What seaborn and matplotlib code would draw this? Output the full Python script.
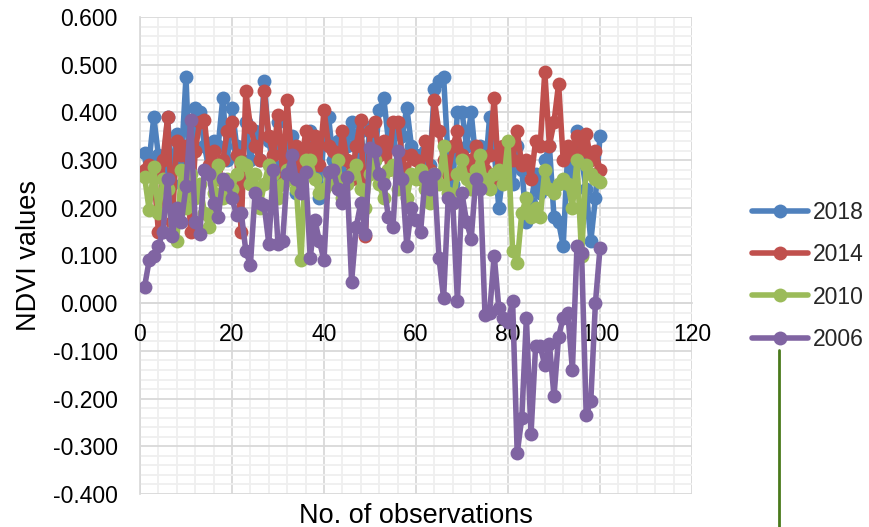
import numpy as np
import pandas as pd
import matplotlib
matplotlib.use("Agg")
import matplotlib.pyplot as plt
import seaborn as sns
from matplotlib.ticker import MultipleLocator, FormatStrFormatter
from matplotlib.lines import Line2D

observations = list(range(1, 101))

ndvi_2018 = [0.315, 0.30, 0.39, 0.31, 0.28, 0.39, 0.25, 0.355, 0.30, 0.475,
             0.22, 0.41, 0.40, 0.33, 0.28, 0.34, 0.33, 0.43, 0.30, 0.41,
             0.33, 0.27, 0.38, 0.30, 0.36, 0.30, 0.465, 0.34, 0.29, 0.38,
             0.26, 0.33, 0.35, 0.23, 0.32, 0.28, 0.36, 0.30, 0.22, 0.35,
             0.39, 0.30, 0.34, 0.27, 0.33, 0.38, 0.30, 0.36, 0.28, 0.37,
             0.30, 0.405, 0.43, 0.34, 0.36, 0.29, 0.35, 0.41, 0.33, 0.31,
             0.27, 0.32, 0.29, 0.45, 0.465, 0.475, 0.30, 0.25, 0.40, 0.40,
             0.33, 0.40, 0.30, 0.33, 0.27, 0.39, 0.32, 0.20, 0.28, 0.30,
             0.25, 0.33, 0.28, 0.17, 0.21, 0.27, 0.23, 0.30, 0.33, 0.18,
             0.17, 0.12, 0.32, 0.27, 0.36, 0.30, 0.24, 0.13, 0.22, 0.35]

ndvi_2014 = [0.28, 0.29, 0.27, 0.15, 0.30, 0.39, 0.17, 0.34, 0.31, 0.33,
             0.15, 0.32, 0.38, 0.385, 0.29, 0.32, 0.26, 0.30, 0.36, 0.38,
             0.31, 0.15, 0.445, 0.37, 0.33, 0.30, 0.445, 0.35, 0.31, 0.395,
             0.27, 0.425, 0.30, 0.33, 0.28, 0.36, 0.31, 0.35, 0.29, 0.405,
             0.33, 0.32, 0.26, 0.36, 0.30, 0.26, 0.33, 0.385, 0.14, 0.36,
             0.38, 0.31, 0.34, 0.28, 0.38, 0.38, 0.31, 0.27, 0.31, 0.30,
             0.26, 0.34, 0.28, 0.425, 0.36, 0.30, 0.27, 0.33, 0.36, 0.31,
             0.28, 0.30, 0.33, 0.30, 0.28, 0.31, 0.43, 0.26, 0.33, 0.32,
             0.30, 0.36, 0.29, 0.30, 0.26, 0.34, 0.33, 0.485, 0.33, 0.38,
             0.46, 0.30, 0.33, 0.31, 0.35, 0.32, 0.355, 0.30, 0.32, 0.28]

ndvi_2010 = [0.265, 0.195, 0.285, 0.19, 0.26, 0.24, 0.15, 0.13, 0.28, 0.20,
             0.27, 0.22, 0.25, 0.19, 0.16, 0.23, 0.29, 0.22, 0.26, 0.24,
             0.27, 0.295, 0.29, 0.25, 0.27, 0.20, 0.25, 0.29, 0.27, 0.22,
             0.25, 0.28, 0.26, 0.24, 0.09, 0.30, 0.30, 0.26, 0.23, 0.24,
             0.27, 0.25, 0.30, 0.22, 0.25, 0.27, 0.29, 0.24, 0.20, 0.27,
             0.30, 0.25, 0.22, 0.28, 0.29, 0.24, 0.26, 0.22, 0.27, 0.26,
             0.28, 0.24, 0.21, 0.27, 0.25, 0.33, 0.23, 0.21, 0.27, 0.30,
             0.26, 0.24, 0.28, 0.31, 0.26, 0.24, 0.27, 0.28, 0.25, 0.34,
             0.11, 0.085, 0.19, 0.22, 0.18, 0.20, 0.18, 0.28, 0.24, 0.23,
             0.25, 0.26, 0.25, 0.20, 0.30, 0.10, 0.29, 0.27, 0.26, 0.255]

ndvi_2006 = [0.035, 0.09, 0.10, 0.12, 0.15, 0.26, 0.14, 0.20, 0.17, 0.245,
             0.385, 0.17, 0.145, 0.28, 0.27, 0.21, 0.18, 0.26, 0.25, 0.22,
             0.185, 0.19, 0.11, 0.08, 0.23, 0.21, 0.205, 0.125, 0.28, 0.125,
             0.13, 0.27, 0.31, 0.26, 0.23, 0.275, 0.095, 0.175, 0.13, 0.09,
             0.275, 0.28, 0.24, 0.21, 0.265, 0.045, 0.16, 0.21, 0.145, 0.325,
             0.32, 0.27, 0.25, 0.18, 0.16, 0.32, 0.26, 0.12, 0.20, 0.175,
             0.15, 0.265, 0.24, 0.27, 0.095, 0.01, 0.22, 0.21, 0.005, 0.23,
             0.17, 0.135, 0.26, 0.24, -0.025, -0.02, 0.10, -0.01, -0.03, -0.04,
             0.005, -0.315, -0.24, -0.03, -0.275, -0.09, -0.09, -0.13, -0.085, -0.195,
             -0.07, -0.03, -0.02, -0.14, 0.12, 0.105, -0.235, -0.205, 0.0, 0.115]

series_names = ["2018", "2014", "2010", "2006"]
series_values = [ndvi_2018, ndvi_2014, ndvi_2010, ndvi_2006]
series_colors = ["#4F81BD", "#C0504D", "#9BBB59", "#8064A2"]

sns.set_theme(style="white")
plt.rcParams["font.family"] = ["Liberation Sans", "DejaVu Sans"]
plt.rcParams["axes.unicode_minus"] = False

fig = plt.figure(figsize=(8.69, 5.27), dpi=100)
rect = [140 / 869, 1 - 494 / 527, 552 / 869, 477 / 527]

# background axes carrying only the gridlines
ax_bg = fig.add_axes(rect, zorder=0)
ax_bg.set_xlim(0, 120)
ax_bg.set_ylim(-0.4, 0.6)
ax_bg.xaxis.set_major_locator(MultipleLocator(20))
ax_bg.xaxis.set_minor_locator(MultipleLocator(4))
ax_bg.yaxis.set_major_locator(MultipleLocator(0.1))
ax_bg.yaxis.set_minor_locator(MultipleLocator(0.02))
ax_bg.grid(which="minor", color="#EFEFEF", linewidth=1.3)
ax_bg.grid(which="major", color="#D9D9D9", linewidth=1.3)
ax_bg.tick_params(which="both", length=0, labelbottom=False, labelleft=False)
for s in ax_bg.spines.values():
    s.set_visible(False)

ax = fig.add_axes(rect, zorder=1)
ax.patch.set_alpha(0)

for name, vals, col in zip(series_names, series_values, series_colors):
    df = pd.DataFrame({"obs": observations, "ndvi": vals})
    sns.lineplot(data=df, x="obs", y="ndvi", ax=ax, color=col, marker="o",
                 markersize=10, linewidth=4.0, markeredgewidth=0,
                 label=name, zorder=3)

ax.set_xlim(0, 120)
ax.set_ylim(-0.4, 0.6)
ax.xaxis.set_major_locator(MultipleLocator(20))
ax.yaxis.set_major_locator(MultipleLocator(0.1))
ax.yaxis.set_major_formatter(FormatStrFormatter("%.3f"))
ax.grid(False)

for s in ["top", "right"]:
    ax.spines[s].set_visible(False)
ax.spines["left"].set_color("#D9D9D9")
ax.spines["bottom"].set_color("#D9D9D9")
ax.spines["left"].set_zorder(0)
ax.spines["bottom"].set_zorder(0)
ax.spines["bottom"].set_position(("data", 0))

ax.tick_params(axis="both", which="both", length=0, labelsize=16.5, colors="black")
ax.tick_params(axis="y", pad=16)
ax.tick_params(axis="x", pad=14)

ax.set_xlabel("No. of observations", fontsize=19.5, color="black")
ax.set_ylabel("NDVI values", fontsize=19.5, color="black")
ax.xaxis.set_label_coords(0.5, -0.018)
ax.yaxis.set_label_coords(-0.178, 0.5)

handles, labels = ax.get_legend_handles_labels()
ax.legend(handles, labels, loc="upper left",
          bbox_to_anchor=(752 / 869, 1 - 201 / 527), bbox_transform=fig.transFigure,
          frameon=False, fontsize=16.5, handlelength=2.45, handletextpad=0.2,
          labelspacing=0.84, borderpad=0, borderaxespad=0)

fig.add_artist(Line2D([779 / 869, 779 / 869], [1 - 350 / 527, 0],
                      transform=fig.transFigure, color="#4A7A1C", linewidth=2))

fig.savefig("out.png", dpi=100)
